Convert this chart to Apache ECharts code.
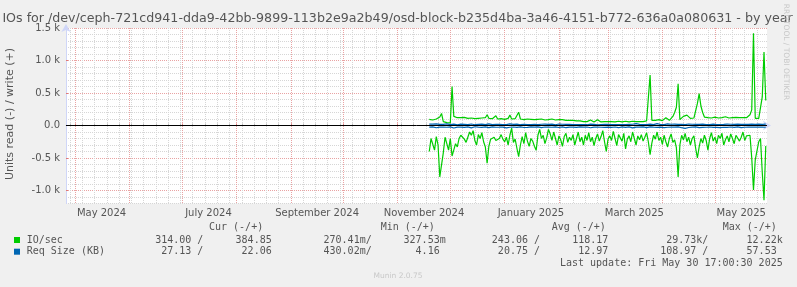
<!DOCTYPE html>
<html><head><meta charset="utf-8">
<script src="https://cdn.jsdelivr.net/npm/echarts@6/dist/echarts.min.js"></script>
<style>html,body{margin:0;padding:0;background:#F0F0F0}#c{width:797px;height:287px}</style>
</head><body><div id="c"></div>
<script>
const chartTitle = 'IOs for /dev/ceph-721cd941-dda9-42bb-9899-113b2e9a2b49/osd-block-b235d4ba-3a46-4151-b772-636a0a080631 - by year';
const yAxisTitle = 'Units read (-) / write (+)';
const firstDay = '2024-11-19';
const lastUpdate = 'Last update: Fri May 30 17:00:30 2025';
const xLabels = ['May 2024','July 2024','September 2024','November 2024','January 2025','March 2025','May 2025'];
const xLabelMonths = ['2024-05','2024-07','2024-09','2024-11','2025-01','2025-03','2025-05'];
const yTicks = [-1000,-500,0,500,1000,1500];

// IO/sec write (+), one value per day
const ioWrite = [
 95,90,85,95,100,110,130,185,60,45,
 45,50,40,600,140,125,120,115,120,110,
 125,115,110,120,115,110,105,115,110,105,
 115,110,120,165,110,100,105,110,150,100,
 95,105,100,95,105,110,160,100,95,105,
 130,205,100,95,90,95,100,90,95,100,
 90,85,95,90,100,90,85,95,90,95,
 100,95,85,95,90,85,90,85,80,85,
 80,75,80,75,70,75,70,65,60,65,
 60,55,85,60,55,60,90,60,55,65,
 60,55,60,55,60,80,55,60,65,60,
 55,60,65,60,55,60,65,80,60,55,
 60,65,60,65,70,65,775,80,85,80,
 85,90,80,75,85,120,140,80,90,140,
 200,280,640,90,100,140,120,160,130,110,
 140,115,130,340,490,300,200,130,125,120,
 125,115,120,130,125,115,130,120,125,135,
 120,115,125,120,130,125,115,120,125,120,
 115,120,150,165,240,1420,110,105,110,115,
 440,1130,385];
// IO/sec read (-), one value per day
const ioRead = [
 400,200,190,380,170,300,790,780,420,180,
 170,380,200,470,450,280,330,200,150,120,
 210,260,180,100,150,80,230,300,140,200,
 110,250,330,580,320,210,240,180,230,220,
 200,140,210,250,180,300,150,40,260,210,
 350,480,300,170,280,110,240,320,200,240,
 320,380,150,60,200,150,280,190,60,130,
 230,100,200,300,160,220,320,170,120,260,
 180,230,140,300,200,100,250,180,300,150,
 230,110,250,180,310,200,130,240,170,80,
 250,400,210,160,230,90,200,310,140,190,
 240,120,360,210,160,250,100,200,300,160,
 220,140,240,180,110,250,450,270,150,210,
 100,230,180,290,150,250,330,200,130,260,
 220,340,790,300,150,220,120,250,180,300,
 200,160,350,500,330,200,270,150,230,380,
 200,110,240,180,280,150,200,120,300,220,
 160,250,130,200,280,150,120,240,180,100,
 230,160,190,150,500,990,530,500,250,200,
 720,1150,314];
// Req Size (KB) write (+)
const reqWrite = [
 20,18,22,15,25,19,17,21,16,14,
 24,19,13,18,22,26,12,17,20,15,
 18,21,14,19,23,16,12,20,17,15,
 22,18,13,19,25,16,14,21,18,12,
 17,23,15,19,14,20,26,13,18,16,
 21,15,12,19,17,24,14,18,13,20,
 16,22,12,17,19,15,21,13,18,14,
 20,17,11,16,23,15,19,12,18,14,
 17,21,13,16,12,19,15,22,14,18,
 12,16,20,13,17,15,11,19,14,22,
 16,13,18,24,12,17,15,20,13,19,
 14,18,12,22,16,13,19,15,28,14,
 17,21,13,18,15,12,20,16,14,19,
 30,18,15,22,13,17,24,16,19,14,
 21,15,18,32,16,20,13,17,23,15,
 19,14,18,26,16,13,21,17,15,20,
 14,18,22,16,13,19,15,24,17,14,
 20,16,19,13,18,15,21,14,17,34,
 18,20,16,15,22,19,17,14,21,22,
 18,25,22];
// Req Size (KB) read (-)
const reqRead = [
 25,30,22,28,35,20,26,32,24,19,
 27,33,21,29,38,23,26,31,25,20,
 28,34,22,27,36,24,19,30,26,23,
 29,35,21,28,33,25,20,31,27,22,
 26,32,24,29,37,21,27,30,23,25,
 28,34,20,26,31,24,29,35,22,27,
 25,30,21,28,33,26,23,32,24,20,
 27,36,22,29,31,25,21,28,34,23,
 26,30,24,20,29,33,22,27,25,31,
 23,28,35,21,26,30,24,42,27,22,
 29,33,25,20,28,31,23,26,34,24,
 21,27,30,25,22,29,36,23,26,28,
 24,31,20,27,33,25,22,30,26,21,
 28,40,24,29,32,23,27,35,25,22,
 26,30,21,28,34,24,44,27,31,23,
 25,29,22,26,33,24,28,20,27,31,
 23,26,30,22,29,25,34,21,27,24,
 28,32,23,26,30,25,22,29,33,24,
 27,21,26,31,25,28,23,30,26,22,
 25,29,27];

const legendNames = ['IO/sec','Req Size (KB)'];
const legendHeaders = ['Cur (-/+)','Min (-/+)','Avg (-/+)','Max (-/+)'];
const ioStats = ['314.00 /','384.85','270.41m/','327.53m','243.06 /','118.17','29.73k/','12.22k'];
const reqStats = ['27.13 /','22.06','430.02m/','4.16 ','20.75 /','12.97','108.97 /','57.53 '];

// ---- layout & style ----
const GREEN = '#00CC00', BLUE = '#0066B3';
const FONT_COLOR = '#555555';
const DAY = 86400000;
const endTs = Date.UTC(2025,4,30,17,0,30);
const startTs = endTs - 400*DAY;
const t0 = Date.parse(firstDay + 'T00:00:00Z');
const pts = (arr, sign) => arr.map((v,i) => [t0 + i*DAY, sign*v]);

const monthStarts = [];
for (let k = 0; k < 14; k++) {
  const ts = Date.UTC(2024, 3 + k, 1);
  if (ts > startTs && ts < endTs) monthStarts.push(ts);
}
const weekTicks = [];
for (let ts = Date.UTC(2024,3,28); ts < endTs; ts += 7*DAY) if (ts > startTs) weekTicks.push(ts);
const labelTs = xLabelMonths.map(s => { const [y,m] = s.split('-').map(Number); return Date.UTC(y, m-1, 16); });

const colRight = [203.3,271.7,371.7,445.7,540,608.3,708.3,782.7];
const headerLeft = [209,380.7,551.7,722.7];
const rowY = [240, 251.7];
const monoFont = '10px "DejaVu Sans Mono"';

const graphics = [];
const txt = (x, y, text, font, fill, align, rotation) => ({type:'text', x, y, rotation: rotation || 0,
  style:{text, font, fill, align, verticalAlign:'middle', textAlign:align, textVerticalAlign:'middle'}});
graphics.push(txt(397.5, 19, chartTitle, '12.65px "DejaVu Sans"', FONT_COLOR, 'center'));
graphics.push(txt(10.5, 114, yAxisTitle, '11px "DejaVu Sans"', FONT_COLOR, 'center', Math.PI/2));
graphics.push(txt(786, 52, 'RRDTOOL / TOBI OETIKER', '7.5px "DejaVu Sans"', '#c8c8c8', 'center', -Math.PI/2));
legendHeaders.forEach((h,i) => graphics.push(txt(headerLeft[i], 227.3, h, monoFont, FONT_COLOR, 'left')));
[ioStats, reqStats].forEach((row, r) => {
  graphics.push({type:'rect', shape:{x:14, y:rowY[r]-3, width:6, height:6}, style:{fill: r===0?GREEN:BLUE}});
  graphics.push(txt(26.7, rowY[r], legendNames[r], monoFont, FONT_COLOR, 'left'));
  row.forEach((c,i) => graphics.push(txt(colRight[i], rowY[r], c, monoFont, FONT_COLOR, 'right')));
});
graphics.push(txt(782.7, 263.3, lastUpdate, monoFont, FONT_COLOR, 'right'));
graphics.push(txt(398, 276, 'Munin 2.0.75', '7.5px "DejaVu Sans"', '#c8c8c8', 'center'));

const AXIS_COLOR = '#CFD6F8';
const minorGrid = {show:true, lineStyle:{color:'#d6d6d6', type:'dotted', width:1}};
const majorGrid = {show:true, lineStyle:{color:'#e9a3a3', type:'dotted', width:1}};

const line = (data, color, z) => ({type:'line', xAxisIndex:1, yAxisIndex:1, data, showSymbol:false, symbol:'none', z,
  lineStyle:{color, width:1.2}, itemStyle:{color}, animation:false});

const option = {
  animation:false,
  backgroundColor:'#F0F0F0',
  grid:{left:66, right:30, top:28, bottom:83.5, show:true, backgroundColor:'#FFFFFF', borderWidth:0},
  xAxis:[
    {type:'value', min:startTs, max:endTs, position:'bottom',
     axisLine:{show:false}, axisLabel:{show:false},
     axisTick:{show:true, customValues:weekTicks, length:2, inside:true, lineStyle:{color:'#b8b8b8'}},
     splitLine:minorGrid},
    {type:'value', min:startTs, max:endTs, position:'bottom',
     axisLine:{show:true, lineStyle:{color:AXIS_COLOR, width:1}, symbol:['none','arrow'], symbolSize:[7,8], symbolOffset:[0,4]},
     axisTick:{show:true, customValues:monthStarts, length:2, inside:true, lineStyle:{color:'#e07a7a'}},
     axisLabel:{show:true, customValues:labelTs, margin:5, color:FONT_COLOR, fontSize:10, fontFamily:'DejaVu Sans',
       formatter:(v) => { const i = labelTs.indexOf(+v); return i >= 0 ? xLabels[i] : ''; }},
     splitLine:majorGrid}
  ],
  yAxis:[
    {type:'value', min:-1200, max:1500, interval:100, position:'left',
     axisLine:{show:false}, axisLabel:{show:false}, axisTick:{show:false}, splitLine:minorGrid},
    {type:'value', min:-1200, max:1500, position:'left',
     axisLine:{show:true, lineStyle:{color:AXIS_COLOR, width:1}, symbol:['none','arrow'], symbolSize:[7,8], symbolOffset:[0,4]},
     axisTick:{show:true, customValues:yTicks, length:2, inside:true, lineStyle:{color:'#e07a7a'}},
     axisLabel:{show:true, customValues:yTicks, margin:6, color:FONT_COLOR, fontSize:10, fontFamily:'DejaVu Sans',
       formatter:(v) => v === 0 ? '0.0' : (v/1000).toFixed(1) + ' k'},
     splitLine:majorGrid}
  ],
  series:[
    Object.assign(line(pts(ioWrite, 1), GREEN, 3), {markLine:{silent:true, symbol:['none','none'], label:{show:false},
      lineStyle:{color:'#000000', width:1, type:'solid'}, data:[{yAxis:0}], animation:false}}),
    line(pts(ioRead, -1), GREEN, 3),
    line(pts(reqWrite, 1), BLUE, 4),
    line(pts(reqRead, -1), BLUE, 4)
  ],
  graphic:{elements:graphics}
};
const chart = echarts.init(document.getElementById('c'), null, {renderer:'canvas'});
chart.setOption(option);
</script></body></html>
